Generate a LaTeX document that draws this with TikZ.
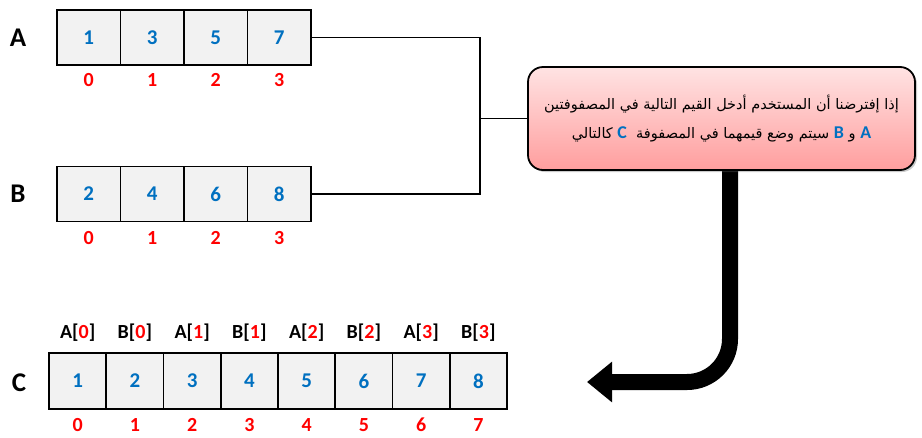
\documentclass[tikz,border=0pt]{standalone}
\usepackage{fontspec}
\setmainfont{Carlito}
\newfontfamily\arabicfont[Script=Arabic]{DejaVu Sans}
\TeXXeTstate=1
\usetikzlibrary{arrows.meta,shadows}
\definecolor{cellgray}{HTML}{F2F2F2}
\definecolor{valblue}{HTML}{0070C0}
\definecolor{idxred}{HTML}{FF0000}
\definecolor{pinktop}{HTML}{FFE3E3}
\definecolor{pinkbot}{HTML}{FF9E9E}
\newcommand\latb[1]{{\rmfamily\bfseries\fontsize{18}{20}\selectfont\textcolor{valblue}{#1}}}
\begin{document}
\begin{tikzpicture}[x=1pt,y=-1pt,
  cellA/.style={draw,fill=cellgray,line width=1.8pt,minimum width=63.5pt,minimum height=55pt,inner sep=0pt,outer sep=0pt,font=\fontsize{21}{24}\bfseries\selectfont,text=valblue},
  cellC/.style={cellA,minimum width=57.25pt,minimum height=56pt},
  idx/.style={font=\fontsize{20}{24}\bfseries\selectfont,text=idxred,inner sep=0pt},
  arrname/.style={font=\fontsize{27}{30}\bfseries\selectfont,inner sep=0pt},
  hdr/.style={font=\fontsize{20}{24}\bfseries\selectfont,inner sep=0pt},
  conn/.style={line width=1.8pt},
  note/.style={draw,line width=1.8pt,rounded corners=15pt,top color=pinktop,bottom color=pinkbot,minimum width=387pt,minimum height=103pt,inner sep=0pt,align=center,font=\arabicfont\fontsize{14.5}{29}\selectfont,drop shadow={shadow xshift=2pt,shadow yshift=-2pt,opacity=0.35,fill=black!60}},
  bigarrow/.style={line width=16pt,rounded corners=43pt,-{Triangle[length=25pt,width=39pt]}}
]
\useasboundingbox (0,0) rectangle (922,437);
% array A
\foreach \v [count=\i from 0] in {1,3,5,7}{
  \node[cellA] (a\i) at ({57+63.5*\i+31.75},37.5) {\v};
  \node[idx] (ai\i) at ({57+63.5*\i+31.75},80) {\i};
}
\node[arrname] (la) at (18,38) {A};
% array B
\foreach \v [count=\i from 0] in {2,4,6,8}{
  \node[cellA] (b\i) at ({57+63.5*\i+31.75},194) {\v};
  \node[idx] (bi\i) at ({57+63.5*\i+31.75},238) {\i};
}
\node[arrname] (lb) at (18,194) {B};
% array C
\foreach \v/\h/\k [count=\i from 0] in {1/A/0,2/B/0,3/A/1,4/B/1,5/A/2,6/B/2,7/A/3,8/B/3}{
  \node[cellC] (c\i) at ({49+57.25*\i+28.625},381) {\v};
  \node[idx] (ci\i) at ({49+57.25*\i+28.625},425) {\i};
  \node[hdr] (ch\i) at ({49+57.25*\i+28.625},333) {\h[\textcolor{idxred}{\k}]};
}
\node[arrname] (lc) at (19,383) {C};
% big arrow
\coordinate (as) at (730,160);
\coordinate (tip) at (587,382);
\draw[bigarrow] (as) -- (as |- tip) -- (tip);
% note box
\node[note] (nt) at (721.5,118.5) {%
  \beginR إذا إفترضنا أن المستخدم أدخل القيم التالية في المصفوفتين\endR\\
  \beginR كالتالي\endR\ \latb{C}\ \ \beginR سيتم وضع قيمهما في المصفوفة\endR\ \latb{B} \beginR و\endR\ \latb{A}};
% connectors
\coordinate (j) at (480,118.5);
\draw[conn] (a3.east) -| (j) |- (b3.east);
\draw[conn] (j) -- (nt.west);
\end{tikzpicture}
\end{document}
